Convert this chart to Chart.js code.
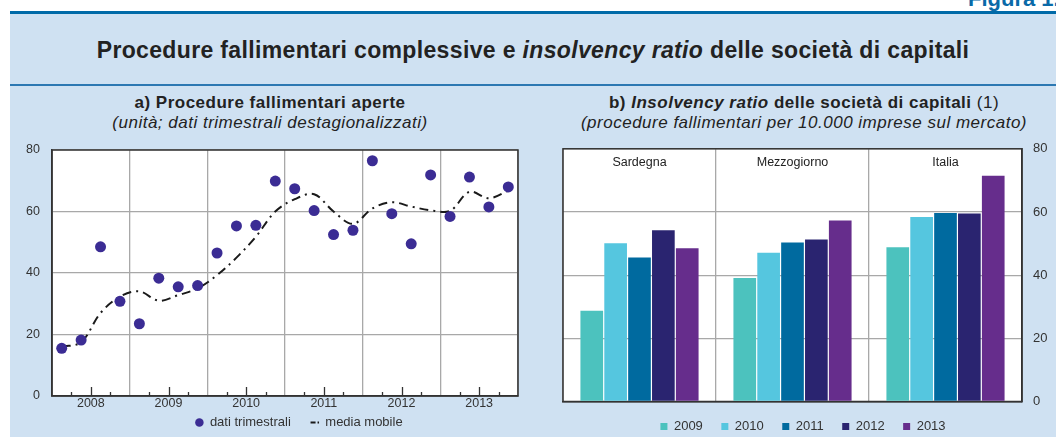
<!DOCTYPE html>
<html lang="it">
<head>
<meta charset="utf-8">
<script src="https://cdn.jsdelivr.net/npm/chart.js@4/dist/chart.umd.min.js"></script>
<style>
  body { margin: 0; width: 1056px; height: 437px; overflow: hidden; position: relative; background: #fff;
         font-family: 'Liberation Sans', Arial, sans-serif; color: #222; }
  #fig { position: absolute; left: 968px; top: -12px; font-size: 22px; font-weight: bold; color: #0a6aa8; white-space: nowrap; line-height: 22px; }
  #topbar { position: absolute; left: 10px; top: 11px; width: 1046px; height: 3px; background: #006aa8; }
  #panel { position: absolute; left: 10px; top: 14px; right: 0; bottom: 0; background: #cfe1f2; }
  #title { position: absolute; left: 10px; right: 0; top: 36px; text-align: center; font-size: 23px; letter-spacing: 0.35px;
           font-weight: bold; line-height: 28px; }
  #rule { position: absolute; left: 10px; right: 0; top: 84px; height: 1.5px; background: #2c78b2; }
  .sub { position: absolute; top: 93px; text-align: center; font-size: 17px; letter-spacing: 0.5px; line-height: 20px; }
  #subA { left: 0; width: 540px; }
  #subB { left: 552px; width: 504px; }
  canvas { position: absolute; }
</style>
</head>
<body>
<div id="panel"></div>
<div id="fig">Figura 1.1</div>
<div id="topbar"></div>
<div id="title">Procedure fallimentari complessive e <i>insolvency ratio</i> delle società di capitali</div>
<div id="rule"></div>
<div class="sub" id="subA"><b>a) Procedure fallimentari aperte</b><br><i>(unità; dati trimestrali destagionalizzati)</i></div>
<div class="sub" id="subB"><b>b) <i>Insolvency ratio</i> delle società di capitali</b> (1)<br><i>(procedure fallimentari per 10.000 imprese sul mercato)</i></div>

<canvas id="left" width="598" height="309" style="left:0;top:130px"></canvas>
<canvas id="right" width="506" height="313" style="left:550px;top:130px"></canvas>

<script>
// panel a) quarterly data 2008Q1 - 2013Q4
var years = ['2008', '2009', '2010', '2011', '2012', '2013'];
var quarterly = [15.5, 18.2, 48.5, 30.8, 23.5, 38.3, 35.5, 35.9,
                 46.5, 55.3, 55.5, 69.9, 67.4, 60.3, 52.5, 53.9,
                 76.5, 59.3, 49.5, 71.9, 58.4, 71.2, 61.5, 68.0];
var movingAvg = [16.0, 17.5, 27.0, 32.3, 34.0, 31.0, 32.8, 35.0,
                 39.3, 45.0, 51.8, 60.0, 64.0, 65.6, 60.0, 56.0,
                 61.0, 63.0, 61.6, 60.4, 60.2, 66.4, 64.3, 66.8];

// panel b) insolvency ratio
var regions = ['Sardegna', 'Mezzogiorno', 'Italia'];
var barYears = ['2009', '2010', '2011', '2012', '2013'];
var ratio2009 = [28.7, 39.1, 48.8];
var ratio2010 = [50.1, 47.1, 58.4];
var ratio2011 = [45.6, 50.3, 59.7];
var ratio2012 = [54.2, 51.3, 59.5];
var ratio2013 = [48.5, 57.3, 71.5];

Chart.defaults.font.family = "'Liberation Sans', Arial, sans-serif";
Chart.defaults.color = '#333';

var gridGrey = '#a8a8a8';
var axisDark = '#333';

// white plot background + dark frame around it
var plotBox = {
  id: 'plotBox',
  beforeDraw: function(chart) {
    var a = chart.chartArea, ctx = chart.ctx;
    ctx.save();
    ctx.fillStyle = '#fff';
    ctx.fillRect(a.left, a.top, a.right - a.left, a.bottom - a.top);
    ctx.restore();
  },
  beforeDatasetsDraw: function(chart) {
    var a = chart.chartArea, ctx = chart.ctx;
    ctx.save();
    ctx.strokeStyle = axisDark;
    ctx.lineWidth = 1.5;
    ctx.strokeRect(a.left, a.top, a.right - a.left, a.bottom - a.top);
    ctx.restore();
  }
};

// inward tick marks on the time axis: short at quarters, long at mid-year
var quarterTicks = {
  id: 'quarterTicks',
  afterDraw: function(chart) {
    var x = chart.scales.x, ctx = chart.ctx, bottom = chart.chartArea.bottom;
    ctx.save();
    ctx.strokeStyle = axisDark;
    ctx.lineWidth = 1.3;
    for (var i = 1; i < 24; i++) {
      if (i % 4 === 0) continue;
      var len = i % 4 === 2 ? 9 : 4;
      var px = Math.round(x.getPixelForValue(i)) + 0.5;
      ctx.beginPath();
      ctx.moveTo(px, bottom);
      ctx.lineTo(px, bottom - len);
      ctx.stroke();
    }
    ctx.restore();
  }
};

// region names written at the top of each bar group
var groupLabels = {
  id: 'groupLabels',
  afterDatasetsDraw: function(chart) {
    var x = chart.scales.x, ctx = chart.ctx;
    ctx.save();
    ctx.fillStyle = '#222';
    ctx.font = "12.5px 'Liberation Sans', Arial, sans-serif";
    ctx.textAlign = 'center';
    ctx.textBaseline = 'middle';
    regions.forEach(function(r, i) {
      ctx.fillText(r, x.getPixelForValue(i), chart.chartArea.top + 14);
    });
    ctx.restore();
  }
};

var pointColor = '#3b2c94';

new Chart(document.getElementById('left'), {
  type: 'line',
  data: {
    datasets: [{
      label: 'dati trimestrali',
      data: quarterly.map(function(v, i) { return {x: i + 0.5, y: v}; }),
      showLine: false,
      pointStyle: 'circle',
      pointRadius: 5.5,
      pointHoverRadius: 5.5,
      pointBorderWidth: 0,
      backgroundColor: pointColor,
      borderColor: pointColor,
      yAxisID: 'y'
    }, {
      label: 'media mobile',
      data: movingAvg.map(function(v, i) { return {x: i + 0.5, y: v}; }),
      borderColor: '#1a1a1a',
      borderWidth: 2,
      borderDash: [9, 5, 2, 5],
      tension: 0.35,
      pointRadius: 0,
      pointStyle: 'line',
      yAxisID: 'y'
    }]
  },
  options: {
    responsive: false,
    animation: false,
    layout: { padding: { top: 20 } },
    plugins: {
      tooltip: { enabled: false },
      legend: {
        position: 'bottom',
        labels: {
          usePointStyle: true,
          boxWidth: 8,
          boxHeight: 6,
          padding: 20,
          font: { size: 13 },
          color: '#333',
          generateLabels: function(chart) {
            var items = Chart.defaults.plugins.legend.labels.generateLabels(chart);
            items[1].lineWidth = 2;
            items[1].strokeStyle = '#1a1a1a';
            items[1].lineDash = [5, 2, 1.5, 2];
            return items;
          }
        }
      }
    },
    scales: {
      x: {
        type: 'linear',
        min: 0,
        max: 24,
        afterBuildTicks: function(s) {
          var t = [];
          for (var i = 0; i <= 24; i++) t.push({value: i});
          s.ticks = t;
        },
        // axis takes no height so the legend sits right under the plot;
        // mirror stops the labels being clipped to the (empty) axis box
        afterFit: function(s) { s.height = 0; },
        ticks: {
          autoSkip: false,
          maxRotation: 0,
          mirror: true,
          padding: -15.5,
          font: { size: 12.5 },
          callback: function(v) { return v % 4 === 2 ? years[(v - 2) / 4] : ''; }
        },
        grid: {
          drawTicks: false,
          color: function(c) { return c.tick && c.tick.value % 4 === 0 ? gridGrey : 'transparent'; },
          lineWidth: 1.3
        },
        border: { color: axisDark, width: 1.5 }
      },
      y: {
        min: 0,
        max: 80,
        afterFit: function(s) { s.width = 52; },
        ticks: { stepSize: 20, padding: 12, font: { size: 12.5 } },
        grid: { color: gridGrey, lineWidth: 1.3, drawTicks: false },
        border: { color: axisDark, width: 1.5 }
      },
      pad: {
        position: 'right',
        afterFit: function(s) { s.width = 80; },
        ticks: { display: false },
        grid: { display: false, drawTicks: false },
        border: { display: false }
      }
    }
  },
  plugins: [plotBox, quarterTicks]
});

var barColors = ['#4cc2be', '#55c6df', '#006a9f', '#2a2470', '#662d8c'];
var barSeries = [ratio2009, ratio2010, ratio2011, ratio2012, ratio2013];

new Chart(document.getElementById('right'), {
  type: 'bar',
  data: {
    labels: regions,
    datasets: barSeries.map(function(vals, i) {
      return {
        label: barYears[i],
        data: vals,
        backgroundColor: barColors[i],
        borderWidth: 0,
        categoryPercentage: 0.78,
        barPercentage: 0.95,
        yAxisID: 'y'
      };
    })
  },
  options: {
    responsive: false,
    animation: false,
    layout: { padding: { top: 17 } },
    plugins: {
      tooltip: { enabled: false },
      legend: {
        position: 'bottom',
        labels: { boxWidth: 7, boxHeight: 7, padding: 18.5, font: { size: 13 }, color: '#333' }
      }
    },
    scales: {
      x: {
        afterFit: function(s) { s.height = 0; },
        ticks: { display: false },
        grid: { offset: true, color: gridGrey, lineWidth: 1.3, drawTicks: false },
        border: { color: axisDark, width: 1.5 }
      },
      y: {
        position: 'right',
        min: 0,
        max: 80,
        afterFit: function(s) { s.width = 34; },
        ticks: { stepSize: 20, padding: 11, font: { size: 13 } },
        grid: { color: gridGrey, lineWidth: 1.3, drawTicks: false },
        border: { color: axisDark, width: 1.5 }
      },
      pad: {
        position: 'left',
        afterFit: function(s) { s.width = 13; },
        ticks: { display: false },
        grid: { display: false, drawTicks: false },
        border: { display: false }
      }
    }
  },
  plugins: [plotBox, groupLabels]
});
</script>
</body>
</html>
